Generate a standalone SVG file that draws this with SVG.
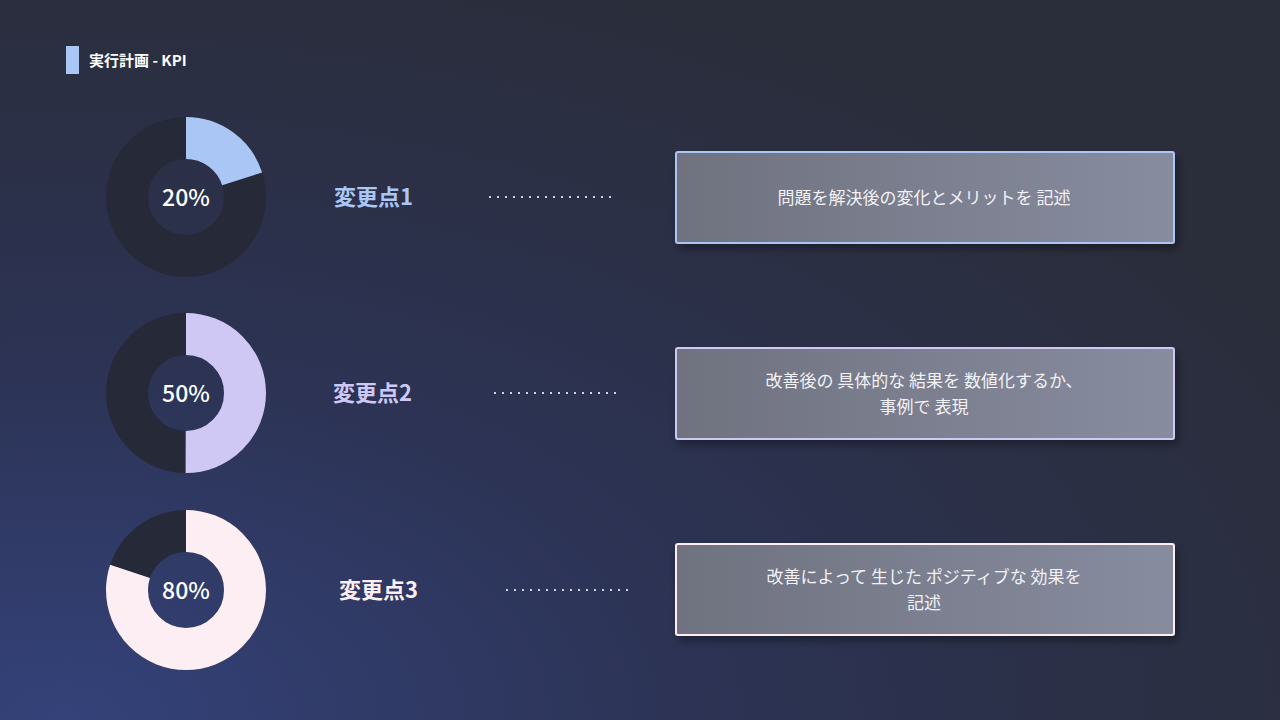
<svg xmlns="http://www.w3.org/2000/svg" width="1280" height="720" viewBox="0 0 1280 720">
<defs>
<radialGradient id="bg" cx="0.05" cy="1" r="1.1">
<stop offset="0" stop-color="#34427a"/><stop offset="0.45" stop-color="#2c3354"/><stop offset="1" stop-color="#2a2d3a"/>
</radialGradient>
<linearGradient id="box" x1="0" y1="0" x2="1" y2="0">
<stop offset="0" stop-color="#6f727f"/><stop offset="1" stop-color="#878c9f"/>
</linearGradient>
<filter id="sh" x="-5%" y="-20%" width="110%" height="150%"><feDropShadow dx="3" dy="5" stdDeviation="4" flood-color="#000" flood-opacity="0.35"/></filter>
<style>
.t{font-family:"Noto Sans CJK JP","Noto Sans",sans-serif}
.pct{font-size:23px;fill:#fff;font-weight:500;text-anchor:middle}
.lbl{font-size:22px;font-weight:700}
.box{fill:url(#box);stroke-width:2;filter:url(#sh)}
.bt{font-size:17px;fill:#f2f2f5;text-anchor:middle}
.dot{stroke:#d0d3dc;stroke-width:2;stroke-dasharray:2 6}
.ring{fill:none;stroke-width:42}
</style>
</defs>
<rect width="1280" height="720" fill="url(#bg)"/>
<rect x="66" y="46" width="13" height="28" fill="#a9c6f5"/>
<text class="t" x="89" y="66" font-size="15" font-weight="700" fill="#fff">実行計画 - KPI</text>
<g id="connectors">
<line class="dot" x1="489" y1="197" x2="616" y2="197"/>
<line class="dot" x1="494" y1="393" x2="621" y2="393"/>
<line class="dot" x1="506" y1="590" x2="633" y2="590"/>
</g>
<g id="donut1">
<circle class="ring" cx="186" cy="197" r="59" stroke="#262a38"/>
<circle class="ring" cx="186" cy="197" r="59" stroke="#a9c6f5" stroke-dasharray="74.1 400" transform="rotate(-90 186 197)"/>
<text class="t pct" x="186" y="206">20%</text>
</g>
<g id="donut2">
<circle class="ring" cx="186" cy="393" r="59" stroke="#262a38"/>
<circle class="ring" cx="186" cy="393" r="59" stroke="#cfc8f5" stroke-dasharray="185.4 400" transform="rotate(-90 186 393)"/>
<text class="t pct" x="186" y="402">50%</text>
</g>
<g id="donut3">
<circle class="ring" cx="186" cy="590" r="59" stroke="#262a38"/>
<circle class="ring" cx="186" cy="590" r="59" stroke="#fdeef4" stroke-dasharray="296.6 400" transform="rotate(-90 186 590)"/>
<text class="t pct" x="186" y="599">80%</text>
</g>
<g id="label1"><text class="t lbl" x="334" y="205" fill="#a9c6f5">変更点1</text></g>
<g id="label2"><text class="t lbl" x="333" y="401" fill="#cfc8f5">変更点2</text></g>
<g id="label3"><text class="t lbl" x="339" y="598" fill="#fdeef4">変更点3</text></g>
<g id="box1">
<rect class="box" x="676" y="152" width="498" height="91" rx="2" stroke="#a9c6f5"/>
<text class="t bt" x="924" y="204">問題を解決後の変化とメリットを 記述</text>
</g>
<g id="box2">
<rect class="box" x="676" y="348" width="498" height="91" rx="2" stroke="#cfc8f5"/>
<text class="t bt" x="924" y="387">改善後の 具体的な 結果を 数値化するか、</text>
<text class="t bt" x="924" y="413">事例で 表現</text>
</g>
<g id="box3">
<rect class="box" x="676" y="544" width="498" height="91" rx="2" stroke="#fdeef4"/>
<text class="t bt" x="924" y="583">改善によって 生じた ポジティブな 効果を</text>
<text class="t bt" x="924" y="609">記述</text>
</g>
</svg>
